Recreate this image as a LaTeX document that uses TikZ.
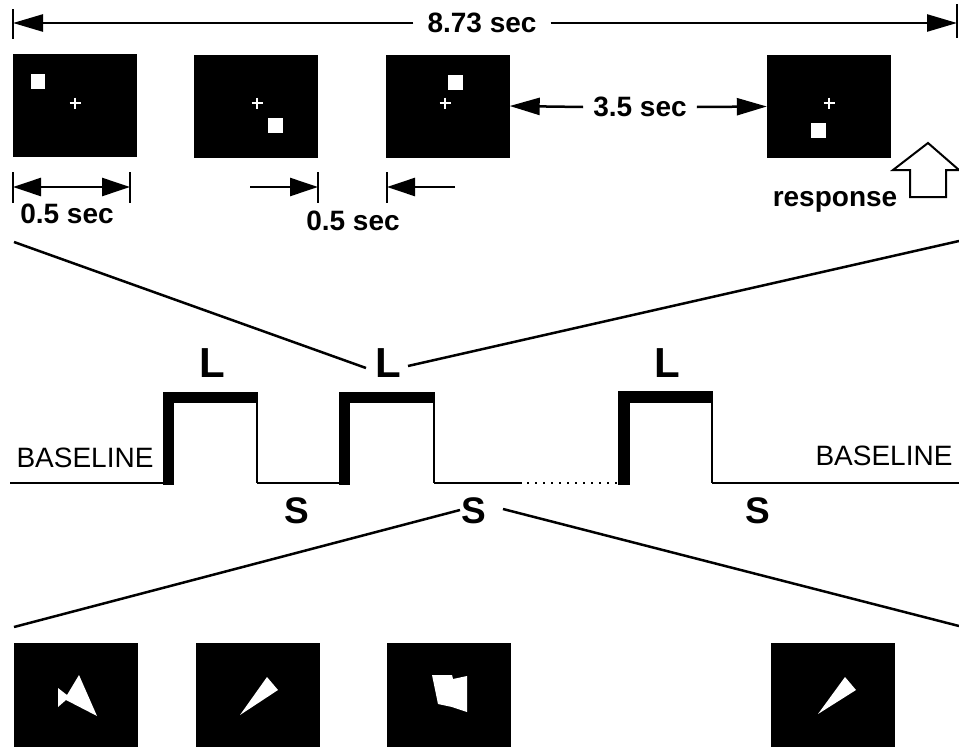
\documentclass[tikz,border=0pt]{standalone}
\usepackage{fontspec}
\setmainfont{Liberation Sans}
\usetikzlibrary{arrows.meta}
\begin{document}
\begin{tikzpicture}[x=1pt,y=-1pt,
  screen/.style={fill=black,inner sep=0pt,minimum width=124pt,minimum height=103pt},
  bscreen/.style={fill=black,inner sep=0pt,minimum width=124pt,minimum height=104pt},
  lbl/.style={font=\fontsize{28}{30}\selectfont\bfseries,inner sep=0pt},
  Lfont/.style={font=\fontsize{42}{44}\selectfont\bfseries,inner sep=0pt},
  Sfont/.style={font=\fontsize{37}{40}\selectfont\bfseries,inner sep=0pt},
  baselbl/.style={font=\fontsize{28}{30}\selectfont,inner sep=0pt},
  arr/.style={line width=2.5pt,-{Triangle[length=30pt,width=17pt]}},
  tickline/.style={line width=2pt},
  fan/.style={line width=2.5pt},
  stim/.style={fill=white},
  crossmark/.style={draw=white,line width=1.3pt},
  wave/.style={line width=2.8pt},
  waveedge/.style={line width=2.5pt}
]
\useasboundingbox (0,0) rectangle (959,747);

% ---------- top timing ----------
\coordinate (tickTL) at (13,23);
\coordinate (tickTR) at (957,23);
\draw[tickline] (13,9) -- (13,39);
\draw[tickline] (957,4) -- (957,38);
\node[lbl,inner xsep=14pt] (total) at (482,23) {8.73 sec};
\draw[arr] (total.west) -- (tickTL);
\draw[arr] (total.east) -- (tickTR);

% ---------- top screens ----------
\node[screen] (s1) at (74.5,105.5) {};
\node[screen] (s2) at (256,106) {};
\node[screen] (s3) at (447.5,106) {};
\node[screen] (s4) at (829,106.5) {};

\fill[stim] (31,74) rectangle (45,89);
\draw[crossmark] (69.5,103) -- (80.5,103) (75,97.5) -- (75,108.5);
\fill[stim] (268,118) rectangle (283,133);
\draw[crossmark] (251.5,103) -- (262.5,103) (257,97.5) -- (257,108.5);
\fill[stim] (448,75) rectangle (463,90);
\draw[crossmark] (439.5,103) -- (450.5,103) (445,97.5) -- (445,108.5);
\fill[stim] (811,123) rectangle (826,138);
\draw[crossmark] (823.5,103) -- (834.5,103) (829,97.5) -- (829,108.5);

% 3.5 sec
\node[lbl,inner xsep=10pt] (isi) at (640,107) {3.5 sec};
\draw[arr] (isi.west) -- (s3.east);
\draw[arr] (isi.east) -- (s4.west);

% 0.5 sec (first)
\coordinate (a1L) at (13,187);
\coordinate (a1R) at (130,187);
\draw[tickline] (13,172) -- (13,203);
\draw[tickline] (130,172) -- (130,203);
\draw[line width=2.5pt,{Triangle[length=28pt,width=18pt]}-{Triangle[length=28pt,width=18pt]}] (a1L) -- (a1R);
\node[lbl] (d1) at (67,214) {0.5 sec};

% 0.5 sec (second)
\coordinate (a2s) at (250,187);
\coordinate (a2e) at (318,187);
\coordinate (a3s) at (455,187);
\coordinate (a3e) at (387,187);
\draw[tickline] (318,172) -- (318,203);
\draw[tickline] (387,172) -- (387,203);
\draw[line width=2.5pt,-{Triangle[length=28pt,width=18pt]}] (a2s) -- (a2e);
\draw[line width=2.5pt,-{Triangle[length=28pt,width=18pt]}] (a3s) -- (a3e);
\node[lbl] (d2) at (353,221) {0.5 sec};

% response
\draw[line width=2pt,fill=white] (928,143) -- (959,170) -- (946,170) -- (946,197)
  -- (910,197) -- (910,170) -- (893,170) -- cycle;
\node[lbl] (resp) at (835,202) {response};

% ---------- fan lines (top) ----------
\coordinate (fTL1) at (14,242);
\coordinate (fTL2) at (366,368);
\coordinate (fTR1) at (408,366);
\coordinate (fTR2) at (959,241);
\draw[fan] (fTL1) -- (fTL2);
\draw[fan] (fTR1) -- (fTR2);

% ---------- block waveform ----------
\draw[wave] (10,483) -- (168,483);
\draw[waveedge] (257,400) -- (257,483);
\draw[wave] (257,483) -- (345,483);
\draw[waveedge] (434,400) -- (434,483);
\draw[wave] (434,483) -- (522,483);
\draw[line width=2pt,dash pattern=on 2pt off 6pt] (527,483) -- (618,483);
\draw[waveedge] (712,400) -- (712,483);
\draw[wave] (712,483) -- (959,483);
\fill (163,392) rectangle (174,485);
\fill (163,392) rectangle (258,403);
\fill (339,392) rectangle (350,485);
\fill (339,392) rectangle (435,403);
\fill (618,391) rectangle (630,485);
\fill (618,391) rectangle (713,403);

\node[baselbl] (bl1) at (85,458) {BASELINE};
\node[baselbl] (bl2) at (884,456) {BASELINE};

\node[Lfont] (L1) at (212,363) {L};
\node[Lfont] (L2) at (388,363) {L};
\node[Lfont] (L3) at (667,363) {L};
\node[Sfont] (S1) at (297,511) {S};
\node[Sfont] (S2) at (474,511) {S};
\node[Sfont] (S3) at (758,511) {S};

% ---------- fan lines (bottom) ----------
\coordinate (fBL1) at (460,510);
\coordinate (fBL2) at (14,627);
\coordinate (fBR1) at (503,509);
\coordinate (fBR2) at (959,626);
\draw[fan] (fBL1) -- (fBL2);
\draw[fan] (fBR1) -- (fBR2);

% ---------- bottom screens ----------
\node[bscreen] (b1) at (75.5,695) {};
\node[bscreen] (b2) at (258,695) {};
\node[bscreen] (b3) at (449,695) {};
\node[bscreen] (b4) at (833,695) {};

\fill[stim] (79,675) -- (97,716) -- (66,700) -- (58,707) -- (58,688) -- (67,695) -- cycle;
\fill[stim] (240,715) -- (267,677) -- (278,690) -- cycle;
\fill[stim] (432,675) -- (452,675) -- (453,679) -- (467,676) -- (467,712) -- (452,707) -- (438,704) -- cycle;
\fill[stim] (818,714) -- (845,677) -- (856,690) -- cycle;
\end{tikzpicture}
\end{document}
